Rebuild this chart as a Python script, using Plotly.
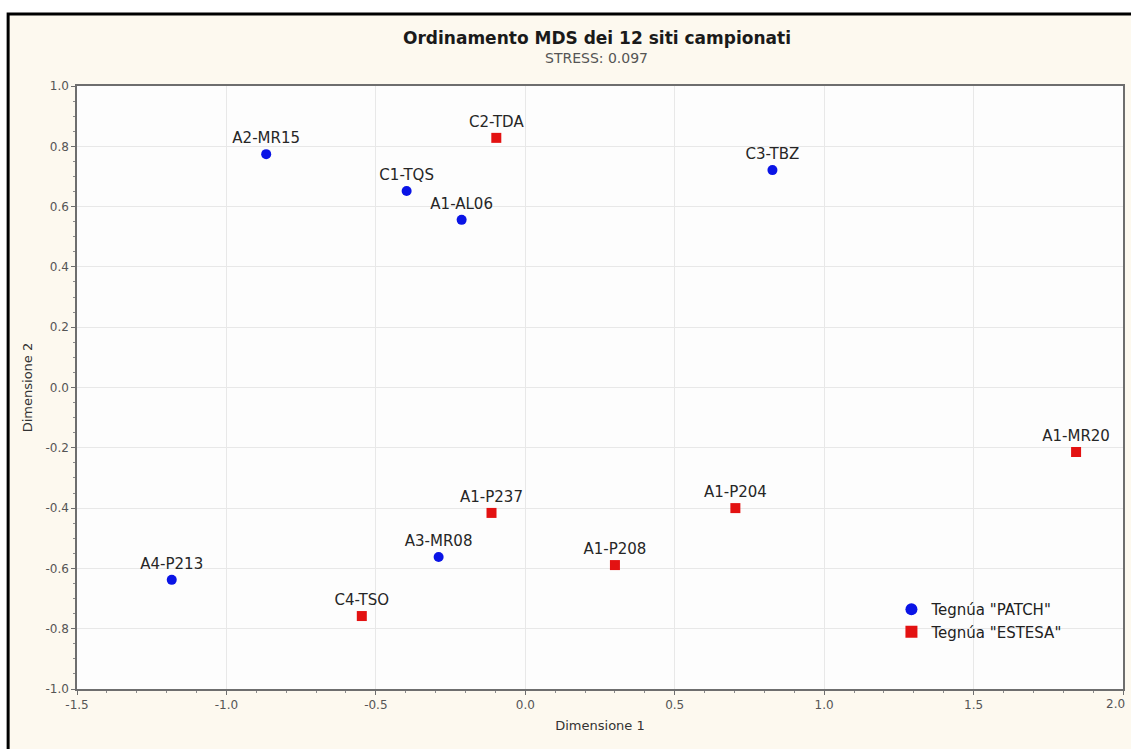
import plotly.graph_objects as go

# MDS ordination coordinates of the 12 sampled sites
patch_sites = ["A2-MR15", "C1-TQS", "A1-AL06", "C3-TBZ", "A3-MR08", "A4-P213"]
patch_dim1 = [-0.867, -0.397, -0.213, 0.827, -0.290, -1.183]
patch_dim2 = [0.774, 0.652, 0.556, 0.721, -0.562, -0.638]

estesa_sites = ["C2-TDA", "A1-MR20", "A1-P237", "A1-P204", "A1-P208", "C4-TSO"]
estesa_dim1 = [-0.097, 1.843, -0.113, 0.703, 0.300, -0.547]
estesa_dim2 = [0.828, -0.214, -0.416, -0.400, -0.589, -0.758]

x_ticks = [-1.5, -1.0, -0.5, 0.0, 0.5, 1.0, 1.5, 2.0]
y_ticks = [1.0, 0.8, 0.6, 0.4, 0.2, 0.0, -0.2, -0.4, -0.6, -0.8, -1.0]

W, H = 1131, 749
ML, MR, MT, MB = 77, 6, 86, 60
PW, PH = W - ML - MR, H - MT - MB


def px_x(px):
    return (px - ML) / PW


def px_y(py):
    return 1 - (py - MT) / PH


def tick_text(vals):
    # plain hyphen as the minus sign
    return [f"{v:.1f}" for v in vals]


FONT = "DejaVu Sans, Arial, sans-serif"
label_font = dict(family=FONT, size=15, color="#262626")
tick_font = dict(family=FONT, size=12, color="#555555")

fig = go.Figure()
fig.add_trace(go.Scatter(
    x=patch_dim1, y=patch_dim2, text=patch_sites,
    mode="markers+text", textposition="top center",
    textfont=label_font,
    marker=dict(symbol="circle", size=10, color="#0a14e6"),
    name='Tegnúa "PATCH"',
))
fig.add_trace(go.Scatter(
    x=estesa_dim1, y=estesa_dim2, text=estesa_sites,
    mode="markers+text", textposition="top center",
    textfont=label_font,
    marker=dict(symbol="square", size=10, color="#e31212"),
    name='Tegnúa "ESTESA"',
))

axis_common = dict(
    showline=True, linecolor="#6e6e6e", linewidth=1.5, mirror=True,
    showgrid=True, gridcolor="#e8e8e8", gridwidth=1,
    zeroline=False,
    ticks="outside", ticklen=4, tickcolor="#6e6e6e",
    tickfont=tick_font,
)

fig.update_xaxes(
    range=[-1.5, 2.0], tickvals=x_ticks, ticktext=tick_text(x_ticks),
    title=dict(text="Dimensione 1", font=dict(family=FONT, size=13, color="#333333"), standoff=10),
    minor=dict(ticks="outside", ticklen=2, tickcolor="#8a8a8a", dtick=0.1, showgrid=False),
    **axis_common,
)
fig.update_yaxes(
    range=[-1.0, 1.0], tickvals=y_ticks, ticktext=tick_text(y_ticks),
    title=dict(text="Dimensione 2", font=dict(family=FONT, size=13, color="#333333"), standoff=10),
    minor=dict(ticks="outside", ticklen=2, tickcolor="#8a8a8a", dtick=0.05, showgrid=False),
    **axis_common,
)

# cream panel with black frame on top and left
fig.add_shape(
    type="rect", xref="paper", yref="paper", layer="below",
    x0=px_x(8), x1=px_x(W + 4), y0=px_y(H + 4), y1=px_y(14),
    fillcolor="#fdf9ef", line=dict(color="#000000", width=3),
)
# white plotting area
fig.add_shape(
    type="rect", xref="paper", yref="paper", layer="below",
    x0=0, x1=1, y0=0, y1=1,
    fillcolor="#fdfdfd", line=dict(width=0),
)

# last x tick label sits on the right edge, where the axis would hide it
fig.add_annotation(
    text=tick_text([x_ticks[-1]])[0],
    xref="x", yref="paper", x=x_ticks[-1], y=0, yshift=-6, xshift=4,
    xanchor="right", yanchor="top",
    showarrow=False, font=tick_font,
)

fig.add_annotation(
    text="<b>Ordinamento MDS dei 12 siti campionati</b>",
    xref="paper", yref="paper", x=px_x(598), y=px_y(38),
    xanchor="center", yanchor="middle",
    showarrow=False, font=dict(family=FONT, size=17, color="#1a1a1a"),
)
fig.add_annotation(
    text="STRESS: 0.097",
    xref="paper", yref="paper", x=px_x(597), y=px_y(58),
    xanchor="center", yanchor="middle",
    showarrow=False, font=dict(family=FONT, size=14, color="#555555"),
)

fig.update_layout(
    width=W, height=H,
    margin=dict(l=ML, r=MR, t=MT, b=MB),
    paper_bgcolor="#ffffff",
    plot_bgcolor="rgba(0,0,0,0)",
    showlegend=True,
    legend=dict(
        x=px_x(893), y=px_y(593), xanchor="left", yanchor="top",
        bgcolor="rgba(0,0,0,0)", font=dict(family=FONT, size=15, color="#222222"),
        itemsizing="constant", tracegroupgap=0,
    ),
)

fig.write_html("out.html")
